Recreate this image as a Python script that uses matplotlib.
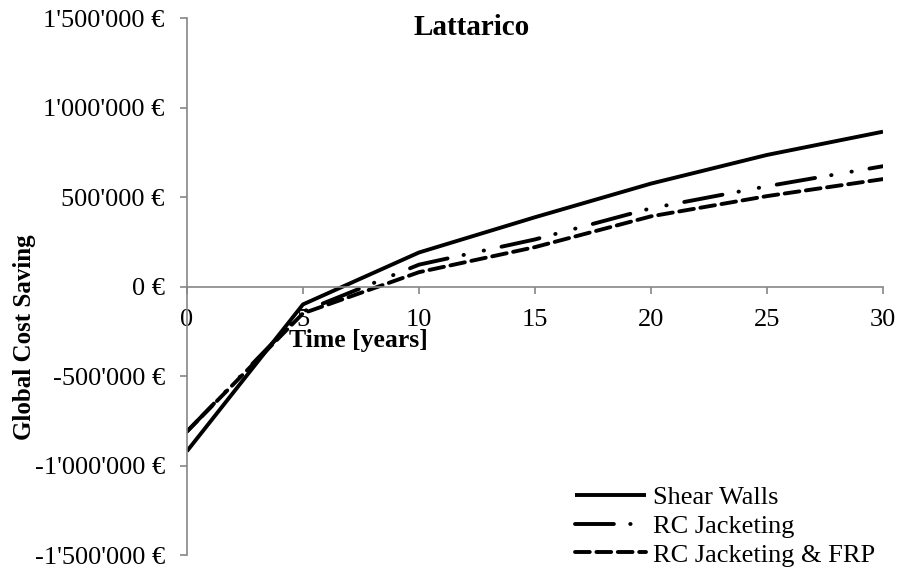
import matplotlib.pyplot as plt
from matplotlib.ticker import FuncFormatter

plt.rcParams['font.family'] = ['Liberation Serif', 'DejaVu Serif']

# Data
years = [0, 5, 10, 15, 20, 25, 30]
shear_walls = [-920000, -100000, 190000, 387000, 575000, 735000, 865000]
rc_jacketing = [-810000, -140000, 122000, 263000, 437000, 560000, 672000]
rc_jacketing_frp = [-810000, -150000, 80000, 220000, 392000, 505000, 600000]

series = [
    ('Shear Walls', shear_walls, '-'),
    ('RC Jacketing', rc_jacketing, (0, (10, 4.2, 0.1, 5.2, 0.1, 4.6))),
    ('RC Jacketing & FRP', rc_jacketing_frp, (0, (3.8, 1.7))),
]

fig = plt.figure(figsize=(9.01, 5.70), dpi=100)
ax = fig.add_axes([0.2075, 0.0263, 0.7725, 0.9421])

for name, vals, ls in series:
    ax.plot(years, vals, color='black', lw=2.8, linestyle=ls,
            dash_capstyle='round', solid_capstyle='butt', label=name)

ax.set_xlim(0, 30)
ax.set_ylim(-1500000, 1500000)
ax.set_xticks(range(0, 31, 5))
ax.set_yticks(range(-1500000, 1500001, 500000))

def euro(v, pos):
    s = f'{abs(int(v)):,}'.replace(',', "'")
    return ('-' if v < 0 else '') + s + ' €'

ax.yaxis.set_major_formatter(FuncFormatter(euro))

# spines crossing at zero
ax.spines['left'].set_position(('data', 0))
ax.spines['bottom'].set_position(('data', 0))
ax.spines['top'].set_visible(False)
ax.spines['right'].set_visible(False)
for sp in ('left', 'bottom'):
    ax.spines[sp].set_color('#868686')
    ax.spines[sp].set_linewidth(1.2)
ax.tick_params(axis='both', colors='#868686', labelcolor='black',
               labelsize=19, length=5, width=1.2, direction='out')
ax.tick_params(axis='y', pad=11)
ax.tick_params(axis='x', pad=11)

fig.text(0.027, 0.409, 'Global Cost Saving', rotation=90, ha='center', va='center',
         fontsize=18, fontweight='bold')
fig.text(0.398, 0.403, 'Time [years]', ha='center', va='center',
         fontsize=18.5, fontweight='bold')
fig.text(0.524, 0.951, 'Lattarico', ha='center', va='center',
         fontsize=21, fontweight='bold')

ax.legend(loc='lower right', bbox_to_anchor=(1.015, -0.056), frameon=False,
          fontsize=19, handlelength=2.7, handletextpad=0.25, labelspacing=0.2,
          borderpad=0.2)

fig.savefig('out.png', dpi=100)
